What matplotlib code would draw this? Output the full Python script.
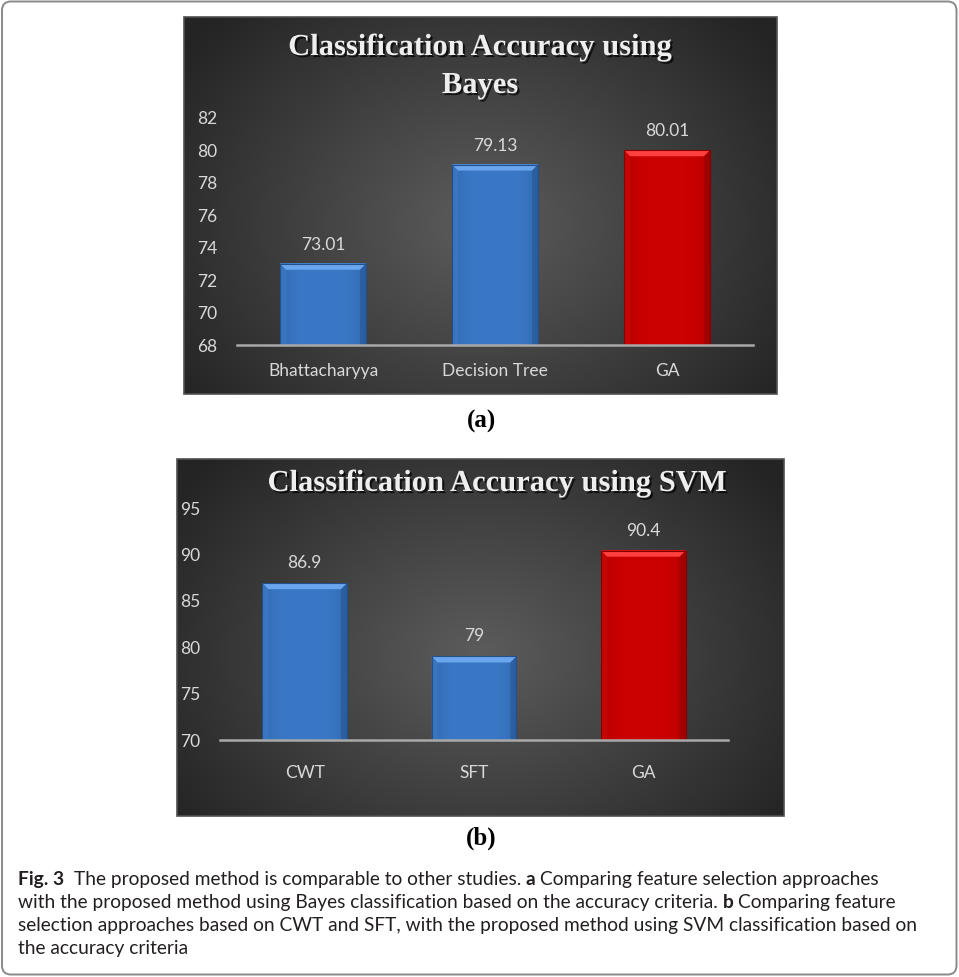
import matplotlib
matplotlib.use("Agg")
import matplotlib.pyplot as plt
import matplotlib.patheffects as pe
import numpy as np
from matplotlib.colors import LinearSegmentedColormap, to_rgb
from matplotlib.patches import FancyBboxPatch, Polygon, Rectangle

W, H = 959, 977

# Bayes classifier accuracy per feature-selection approach
bayes_methods = ["Bhattacharyya", "Decision Tree", "GA"]
bayes_acc = [73.01, 79.13, 80.01]
bayes_ticks = [68, 70, 72, 74, 76, 78, 80, 82]

# SVM classifier accuracy per feature-extraction approach
svm_methods = ["CWT", "SFT", "GA"]
svm_acc = [86.9, 79, 90.4]
svm_ticks = [70, 75, 80, 85, 90, 95]

caption_lines = [
    [("Fig. 3", True, 2), ("The proposed method is comparable to other studies.", False, 1),
     ("a", True, 1), ("Comparing feature selection approaches", False, 0)],
    [("with the proposed method using Bayes classification based on the accuracy criteria.", False, 1),
     ("b", True, 1), ("Comparing feature", False, 0)],
    [("selection approaches based on CWT and SFT, with the proposed method using SVM classification based on",
      False, 0)],
    [("the accuracy criteria", False, 0)],
]

BLUE = ("#3a78c6", "#6aa5ee", "#22508a")   # face, bevel, edge
RED = ("#cc0000", "#ff4040", "#860000")
TXT = "#d9d9d9"
SANS = "Lato"
SERIF = "Liberation Serif"

fig = plt.figure(figsize=(W / 100, H / 100), dpi=100)


def px_axes(x0, y0, x1, y1):
    return fig.add_axes([x0 / W, 1 - y1 / H, (x1 - x0) / W, (y1 - y0) / H])


def panel_background(x0, y0, x1, y1):
    ax = px_axes(x0, y0, x1, y1)
    yy, xx = np.mgrid[0:1:240j, 0:1:360j]
    r = np.clip(np.hypot((xx - 0.5) / 0.62, (yy - 0.55) / 0.8), 0, 1)
    cmap = LinearSegmentedColormap.from_list("panel", ["#5c5c5c", "#404040", "#242424"])
    ax.imshow(r, cmap=cmap, vmin=0, vmax=1, extent=[0, 1, 0, 1], aspect="auto",
              interpolation="bilinear")
    ax.add_patch(Rectangle((0, 0), 1, 1, transform=ax.transAxes, fill=False,
                           ec="#505050", lw=1.2, clip_on=False))
    ax.set_axis_off()
    return ax


def shaded_bar(ax, x, top, base, width, style, ppx, ppy):
    face, light, dark = (np.array(to_rgb(c)) for c in style)
    left, right = x - width / 2, x + width / 2
    t = np.linspace(-1, 1, 80)
    g = 1 - np.abs(t) ** 4
    row = dark[None, :] + (face - dark)[None, :] * (0.6 + 0.4 * g)[:, None]
    img = np.repeat(row[None, :, :], 2, axis=0)
    ax.imshow(img, extent=[left, right, base, top], aspect="auto", zorder=2,
              interpolation="bilinear")
    dx, dy = 6 / ppx, 6 / ppy
    ax.add_patch(Polygon([(left, top), (right, top), (right - dx, top - dy), (left + dx, top - dy)],
                         closed=True, fc=light, ec="none", zorder=3))
    ax.add_patch(Polygon([(left, top), (left + dx, top - dy), (left + dx, base), (left, base)],
                         closed=True, fc=face * 0.85 + light * 0.15, ec="none", alpha=0.5, zorder=3))
    ax.add_patch(Polygon([(right, top), (right - dx, top - dy), (right - dx, base), (right, base)],
                         closed=True, fc=dark, ec="none", alpha=0.45, zorder=3))
    ax.add_patch(Rectangle((left, base), width, top - base, fill=False, ec=dark, lw=0.8, zorder=3))


def bar_chart(box, methods, values, ticks, xpad, label_gap):
    x0, y0, x1, y1 = box
    ax = px_axes(*box)
    ax.patch.set_visible(False)
    xs = np.arange(len(methods))
    lo, hi = ticks[0], ticks[-1]
    ppx = (x1 - x0) / len(methods)
    ppy = (y1 - y0) / (hi - lo)
    width = 0.5
    for x, v, st in zip(xs, values, [BLUE, BLUE, RED]):
        shaded_bar(ax, x, v, lo, width, st, ppx, ppy)
        ax.annotate(f"{v:g}", (x, v), xytext=(0, label_gap), textcoords="offset pixels",
                    ha="center", va="center", color=TXT, fontsize=12.5, family=SANS,
                    annotation_clip=False)
    ax.axhline(lo, color="#a9a9a9", lw=1.8, zorder=4, clip_on=False)
    ax.set_xlim(-0.5, len(methods) - 0.5)
    ax.set_ylim(lo, hi)
    ax.set_xticks(xs, methods)
    ax.set_yticks(ticks)
    for s in ax.spines.values():
        s.set_visible(False)
    ax.tick_params(axis="both", length=0, colors=TXT, labelsize=12.5)
    ax.tick_params(axis="y", pad=14)
    ax.tick_params(axis="x", pad=xpad)
    for lab in ax.get_xticklabels() + ax.get_yticklabels():
        lab.set_family(SANS)
    return ax


panel_background(184, 17, 777, 394)
bar_chart((237, 118, 753, 345), bayes_methods, bayes_acc, bayes_ticks, xpad=13, label_gap=19)

panel_background(177, 459, 784, 816)
bar_chart((220, 508, 728, 740), svm_methods, svm_acc, svm_ticks, xpad=18, label_gap=20)

# overlay in pixel coordinates for titles, panel letters, caption and frame
ov = fig.add_axes([0, 0, 1, 1])
ov.set_xlim(0, W)
ov.set_ylim(H, 0)
ov.set_axis_off()
ov.patch.set_visible(False)

shadow = [pe.withSimplePatchShadow(offset=(1.5, -1.5), shadow_rgbFace="black", alpha=0.7)]
title_kw = dict(ha="center", va="baseline", color="#eeeeee", fontsize=22, family=SERIF,
                fontweight="bold", path_effects=shadow)
ov.text(480, 55, "Classification Accuracy using", **title_kw)
ov.text(480, 93, "Bayes", **title_kw)
ov.text(497, 491, "Classification Accuracy using SVM", **title_kw)

ov.text(481, 421, "(a)", ha="center", va="center", fontsize=18, family=SERIF,
        fontweight="bold", color="black")
ov.text(481, 838, "(b)", ha="center", va="center", fontsize=18, family=SERIF,
        fontweight="bold", color="black")

renderer = fig.canvas.get_renderer()
cap_size = 13.8
probe = ov.text(0, 0, "x x", fontsize=cap_size, family=SANS)
probe2 = ov.text(0, 0, "xx", fontsize=cap_size, family=SANS)
space_w = probe.get_window_extent(renderer).width - probe2.get_window_extent(renderer).width
probe.remove()
probe2.remove()

for i, runs in enumerate(caption_lines):
    x = 18
    y = 885 + i * 23
    for text, bold, gap in runs:
        t = ov.text(x, y, text, fontsize=cap_size, family=SANS, color="#231f20",
                    fontweight="bold" if bold else "normal", ha="left", va="baseline")
        x += t.get_window_extent(renderer).width + gap * space_w

ov.add_patch(FancyBboxPatch((2, 1.5), W - 4.5, H - 4, boxstyle="round,pad=0,rounding_size=9",
                            fill=False, ec="#8a8a8a", lw=1.4, clip_on=False))

fig.savefig("out.png", dpi=100)
